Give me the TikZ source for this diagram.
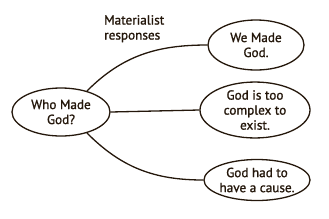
\documentclass[tikz,border=0pt]{standalone}
\usepackage{fontspec}
\setmainfont[FakeBold=1.2]{PT Sans}
\usetikzlibrary{shapes.geometric}
\definecolor{ink}{HTML}{24170B}
\begin{document}
\begin{tikzpicture}[x=1pt,y=-1pt,
  txt/.style={font=\fontsize{13.2}{15}\selectfont,text=ink},
  bubble/.style={ellipse,draw=ink,line width=1.3pt,inner sep=0pt,align=center,txt},
  link/.style={draw=ink,line width=1.3pt}]
\useasboundingbox (0,0) rectangle (329,218);
\node[bubble,minimum width=98,minimum height=48] (who) at (61,112) {Who Made\\God?};
\node[bubble,minimum width=96,minimum height=50] (we) at (256,45) {We Made\\God.};
\node[bubble,minimum width=110,minimum height=54] (complex) at (255,110) {God is too\\complex to\\exist.};
\node[bubble,minimum width=97,minimum height=41] (cause) at (257,180) {God had to\\have a cause.};
\node[align=left,anchor=north west,inner sep=0pt,txt] (lbl) at (104,15) {Materialist\\responses};
\draw[link] (who.39) to[out=45,in=180] (we.west);
\draw[link] (who.east) -- (complex.west);
\draw[link] (who.-39) to[out=-45,in=180] (cause.west);
\end{tikzpicture}
\end{document}
